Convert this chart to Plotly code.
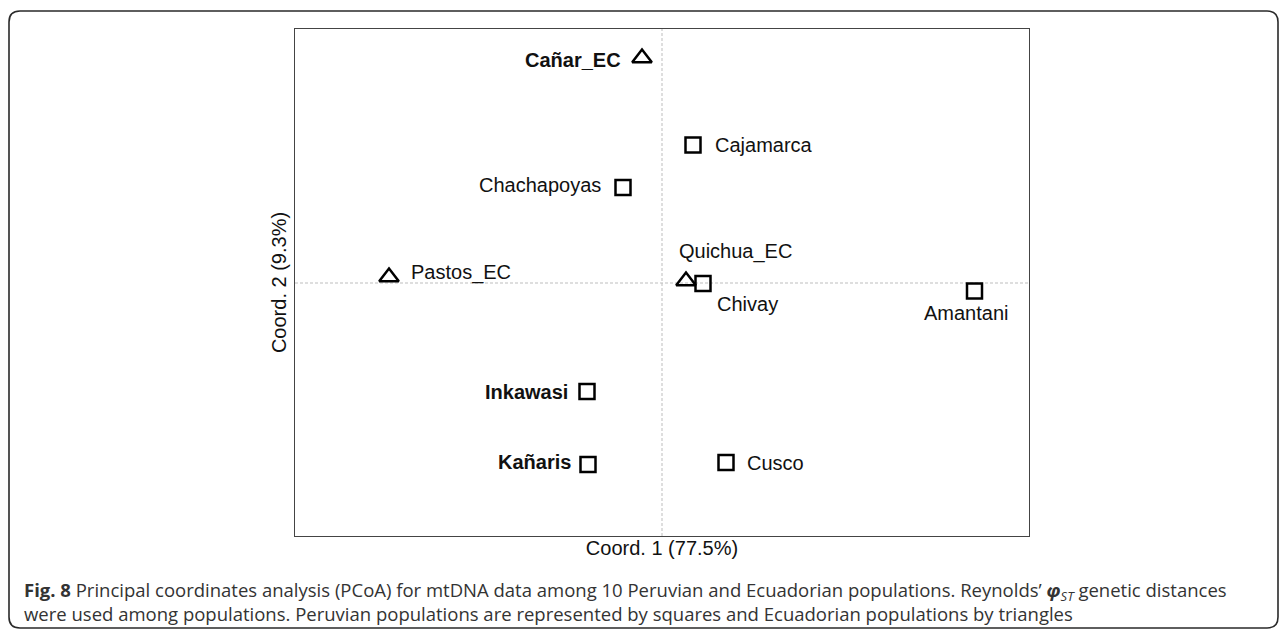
import plotly.graph_objects as go

# ---- data ----
populations = ["Cañar_EC", "Cajamarca", "Chachapoyas", "Pastos_EC", "Quichua_EC",
               "Chivay", "Amantani", "Inkawasi", "Kañaris", "Cusco"]
coord1 = [-0.020, 0.031, -0.039, -0.273, 0.024, 0.041, 0.3125, -0.075, -0.074, 0.064]
coord2 = [0.225, 0.138, 0.0955, 0.006, 0.002, -0.0005, -0.008, -0.1085, -0.1815, -0.1795]
country = ["EC", "PE", "PE", "EC", "EC", "PE", "PE", "PE", "PE", "PE"]
bold_label = [True, False, False, False, False, False, False, True, True, False]

x_title = "Coord. 1 (77.5%)"
y_title = "Coord. 2 (9.3%)"
caption_1 = ("<b>Fig. 8</b> Principal coordinates analysis (PCoA) for mtDNA data among 10 Peruvian "
             "and Ecuadorian populations. Reynolds’ <b><i>φ</i></b><sub><i>ST</i></sub> genetic distances")
caption_2 = ("were used among populations. Peruvian populations are represented by squares "
             "and Ecuadorian populations by triangles")

# label placement (pixel offsets from the marker)
label_style = {
    "Cañar_EC":    dict(xanchor="right",  xshift=-19, yshift=-2),
    "Cajamarca":   dict(xanchor="left",   xshift=20,  yshift=0),
    "Chachapoyas": dict(xanchor="right",  xshift=-20, yshift=3),
    "Pastos_EC":   dict(xanchor="left",   xshift=20,  yshift=5),
    "Quichua_EC":  dict(xanchor="left",   xshift=-9,  yshift=30),
    "Chivay":      dict(xanchor="left",   xshift=12,  yshift=-20),
    "Amantani":    dict(xanchor="center", xshift=-8,  yshift=-22),
    "Inkawasi":    dict(xanchor="right",  xshift=-17, yshift=0),
    "Kañaris":     dict(xanchor="right",  xshift=-15, yshift=3),
    "Cusco":       dict(xanchor="left",   xshift=19,  yshift=0),
}

FONT = "Liberation Sans, Arial, sans-serif"

fig = go.Figure()
for c, sym, sz in (("PE", "square-open", 15), ("EC", "triangle-up-open", 17)):
    xs = [x for x, k in zip(coord1, country) if k == c]
    ys = [y for y, k in zip(coord2, country) if k == c]
    fig.add_trace(go.Scatter(
        x=xs, y=ys, mode="markers",
        marker=dict(symbol=sym, size=sz, color="black",
                    line=dict(color="black", width=2.5)),
        showlegend=False, hoverinfo="skip"))

for name, x, y, b in zip(populations, coord1, coord2, bold_label):
    st = label_style[name]
    fig.add_annotation(x=x, y=y, xref="x", yref="y", showarrow=False,
                       text=f"<b>{name}</b>" if b else name,
                       font=dict(family=FONT, size=20, color="#111"),
                       yanchor="middle", **st)

# dashed reference lines through the origin
fig.add_shape(type="line", xref="x", yref="paper", x0=0, x1=0, y0=0, y1=1,
              line=dict(color="#bdbdbd", width=1, dash="3px,2px"), layer="below")
fig.add_shape(type="line", xref="paper", yref="y", x0=0, x1=1, y0=0, y1=0,
              line=dict(color="#bdbdbd", width=1, dash="3px,2px"), layer="below")

# geometry of the plot area in pixels
L, R, T, B = 295, 1029, 29, 536
W, H = 1287, 634
def px(xp):
    return (xp - L) / (R - L)
def py(yp):
    return (B - yp) / (B - T)

# outer rounded frame
x0, x1, y0, y1, r = 9, 1278, 11, 628, 11
path = (f"M {px(x0+r)},{py(y0)} L {px(x1-r)},{py(y0)} Q {px(x1)},{py(y0)} {px(x1)},{py(y0+r)} "
        f"L {px(x1)},{py(y1-r)} Q {px(x1)},{py(y1)} {px(x1-r)},{py(y1)} "
        f"L {px(x0+r)},{py(y1)} Q {px(x0)},{py(y1)} {px(x0)},{py(y1-r)} "
        f"L {px(x0)},{py(y0+r)} Q {px(x0)},{py(y0)} {px(x0+r)},{py(y0)} Z")
fig.add_shape(type="path", xref="paper", yref="paper", path=path,
              line=dict(color="#2a2a2a", width=1.6))

# caption (two lines in one text block)
cap_font = dict(family="Open Sans, sans-serif", size=18.5, color="#333")
fig.add_annotation(xref="paper", yref="paper", x=0, y=0, xanchor="left", yanchor="middle",
                   align="left", xshift=22 - L, yshift=B - 601, showarrow=False,
                   text=caption_1 + "<br>" + caption_2, font=cap_font)

axis_common = dict(showgrid=False, zeroline=False, showticklabels=False, ticks="",
                   showline=True, mirror=True, linecolor="#444", linewidth=1)
fig.update_xaxes(range=[-0.367, 0.367], **axis_common,
                 title=dict(text=x_title, font=dict(family=FONT, size=20, color="#111"), standoff=4))
fig.update_yaxes(range=[-0.253, 0.254], **axis_common,
                 title=dict(text=y_title, font=dict(family=FONT, size=20, color="#111"), standoff=2))

fig.update_layout(width=W, height=H, margin=dict(l=L, r=W - R, t=T, b=H - B),
                  paper_bgcolor="white", plot_bgcolor="white")

fig.write_html("out.html", config={"displayModeBar": False},
               post_script="document.body.style.margin='0';")
